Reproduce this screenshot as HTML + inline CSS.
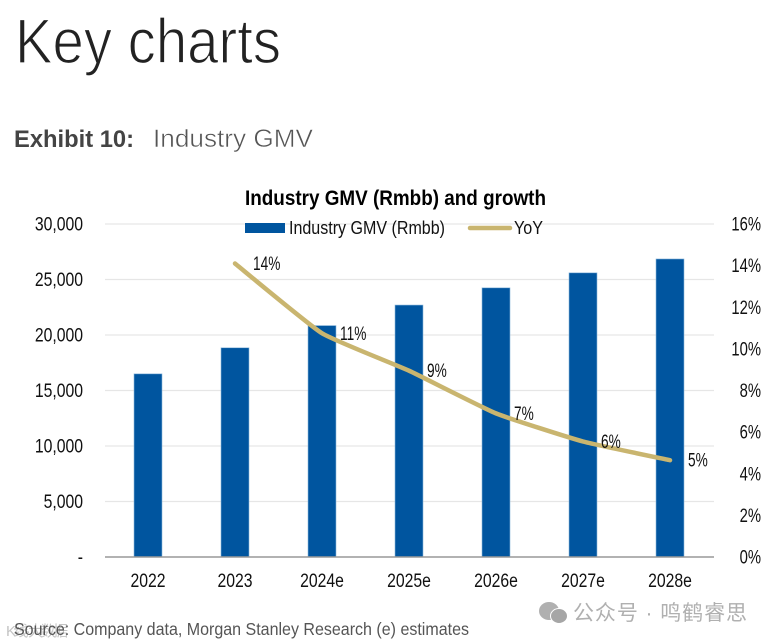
<!DOCTYPE html>
<html lang="en">
<head>
<meta charset="utf-8">
<title>Key charts</title>
<style>
html,body{margin:0;padding:0;background:#fff;width:772px;height:644px;overflow:hidden}
svg{display:block}
text{font-family:"Liberation Sans",sans-serif}
</style>
</head>
<body>
<svg id="chart" width="772" height="644" viewBox="0 0 772 644" xmlns="http://www.w3.org/2000/svg">
  <text x="15" y="63" font-size="63" fill="#222" stroke="#fff" stroke-width="1.3" textLength="266" lengthAdjust="spacingAndGlyphs">Key charts</text>
  <text x="14" y="147" font-size="24" font-weight="bold" fill="#444" textLength="120" lengthAdjust="spacingAndGlyphs">Exhibit 10:</text>
  <text x="153" y="147" font-size="25" fill="#555" stroke="#fff" stroke-width="0.5" textLength="160" lengthAdjust="spacingAndGlyphs">Industry GMV</text>
  <text x="245" y="205" font-size="21" font-weight="bold" fill="#000" textLength="301" lengthAdjust="spacingAndGlyphs">Industry GMV (Rmbb) and growth</text>
  <g id="grid"></g>
  <g id="bars"></g>
  <g id="axes"></g>
  <path id="yoy" fill="none" stroke="#c9b56f" stroke-width="4.5" stroke-linecap="round" stroke-linejoin="round"/>
  <g id="labels"></g>
  <g>
    <rect x="245" y="223" width="40" height="10" fill="#00559f"/>
    <text x="289" y="234" font-size="18.5" fill="#111" textLength="156" lengthAdjust="spacingAndGlyphs">Industry GMV (Rmbb)</text>
    <line x1="470" y1="228" x2="510" y2="228" stroke="#c9b56f" stroke-width="4.5" stroke-linecap="round"/>
    <text x="514" y="234" font-size="18.5" fill="#111" textLength="29" lengthAdjust="spacingAndGlyphs">YoY</text>
  </g>
  <g>
    <ellipse cx="549" cy="611" rx="10" ry="9" fill="#b0b0b0"/>
    <ellipse cx="559" cy="616" rx="8.5" ry="7.5" fill="#a6a6a6" stroke="#fff" stroke-width="1"/>
    <text x="573" y="620" font-size="21" fill="#b0b0b0" textLength="174" style='font-family:"Liberation Sans","Noto Sans CJK SC",sans-serif'>公众号 · 鸣鹤睿思</text>
  </g>
  <text x="6" y="636" font-size="15" fill="#c4c4c4" textLength="62" style='font-family:"Liberation Sans","Noto Sans CJK SC",sans-serif'>K线·大数据</text>
  <text x="14" y="635" font-size="17.5" fill="#555" textLength="455" lengthAdjust="spacingAndGlyphs">Source: Company data, Morgan Stanley Research (e) estimates</text>
</svg>
<script>
const categories = ['2022','2023','2024e','2025e','2026e','2027e','2028e'];
const gmvValues = [16500,18850,20850,22700,24250,25600,26850];
const yoyValues = [null,14.1,10.75,8.95,6.9,5.55,4.65];
const yoyLabels = ['','14%','11%','9%','7%','6%','5%'];
const leftTicks = [0,5000,10000,15000,20000,25000,30000];
const leftTickLabels = ['-','5,000','10,000','15,000','20,000','25,000','30,000'];
const rightTicks = [0,2,4,6,8,10,12,14,16];
const rightTickLabels = ['0%','2%','4%','6%','8%','10%','12%','14%','16%'];

const NS = 'http://www.w3.org/2000/svg';
const yL = v => 557 - v / 30000 * 333;
const yR = v => 557 - v / 16 * 333;
const xC = i => 148 + i * 87;

function make(tag, parent, attrs) {
  const el = document.createElementNS(NS, tag);
  for (const k in attrs) el.setAttribute(k, attrs[k]);
  parent.appendChild(el);
  return el;
}
function condensed(parent, str, x, y, anchor, sx) {
  const t = make('text', parent, {
    transform: 'translate(' + x + ',' + y + ') scale(' + sx + ',1)',
    'font-size': 19,
    'text-anchor': anchor,
    fill: '#111'
  });
  t.textContent = str;
  return t;
}

const grid = document.getElementById('grid');
leftTicks.forEach(v => {
  if (v === 0) return;
  const l = make('line', grid, {x1:105, x2:714, y1:yL(v), y2:yL(v), stroke:'#e6e6e6', 'stroke-width':1.2});
  
  
});

const bars = document.getElementById('bars');
gmvValues.forEach((v, i) => {
  const r = make('rect', bars, {x:xC(i)-14, y:yL(v), width:28, height:557-yL(v), fill:'#00559f', stroke:'#8db8dc', 'stroke-width':0.6});
  
  
});

const axes = document.getElementById('axes');
const base = make('line', axes, {x1:105, x2:714, y1:557, y2:557, stroke:'#999', 'stroke-width':1.4});


leftTicks.forEach((v, i) => {
  const t = condensed(axes, leftTickLabels[i], 83, yL(v) + 6.5, 'end', 0.83);
  
  
});
rightTicks.forEach((v, i) => {
  const t = condensed(axes, rightTickLabels[i], 761, yR(v) + 6.5, 'end', 0.78);
  
  
});
categories.forEach((c, i) => {
  const t = condensed(axes, c, xC(i), 587, 'middle', 0.83);
  
  
});

const pts = [];
yoyValues.forEach((v, i) => { if (v !== null) pts.push([xC(i), yR(v)]); });
let d = 'M' + pts[0][0] + ' ' + pts[0][1];
for (let i = 0; i < pts.length - 1; i++) {
  const p0 = pts[Math.max(i-1,0)], p1 = pts[i], p2 = pts[i+1], p3 = pts[Math.min(i+2,pts.length-1)];
  const k = 0.07;
  d += ' C' + (p1[0]+(p2[0]-p0[0])*k) + ' ' + (p1[1]+(p2[1]-p0[1])*k) + ' ' +
       (p2[0]-(p3[0]-p1[0])*k) + ' ' + (p2[1]-(p3[1]-p1[1])*k) + ' ' + p2[0] + ' ' + p2[1];
}
document.getElementById('yoy').setAttribute('d', d);

const labels = document.getElementById('labels');
yoyValues.forEach((v, i) => {
  if (v === null) return;
  const t = condensed(labels, yoyLabels[i], xC(i) + 18, yR(v) + 6.5, 'start', 0.72);
  
  
});
</script>
</body>
</html>
